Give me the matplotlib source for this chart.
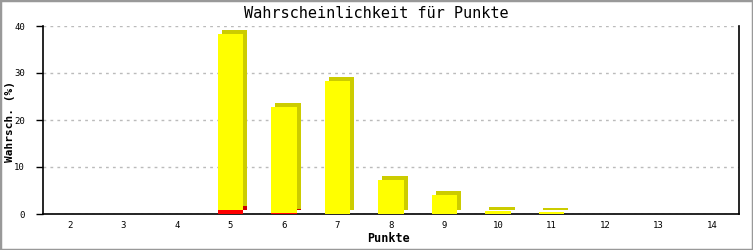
import matplotlib
matplotlib.use("Agg")
from matplotlib import pyplot as plt
from matplotlib.patches import Rectangle
import matplotlib.transforms as mtransforms

punkte = ["2", "3", "4", "5", "6", "7", "8", "9", "10", "11", "12", "13", "14"]
rot = [0, 0, 0, 0.85, 0.2, 0, 0, 0, 0, 0, 0, 0, 0]
gelb = [0, 0, 0, 37.55, 22.6, 28.2, 7.2, 4.0, 0.55, 0.35, 0, 0, 0]

plt.rcParams["font.family"] = "DejaVu Sans Mono"

fig = plt.figure(figsize=(7.53, 2.50), dpi=100)
ax = fig.add_axes([43 / 753, 36 / 250, 696 / 753, 188 / 250])

x = list(range(len(punkte)))
w = 0.47
# 3d shadow: shift 4px right, 4px up
shift = mtransforms.offset_copy(ax.transData, fig=fig, x=4, y=4, units="dots")
top = [r + g for r, g in zip(rot, gelb)]
for i in x:
    if top[i] > 0:
        ax.bar(i, gelb[i], w, bottom=rot[i], color="#cccc00", transform=shift, zorder=2)
    if rot[i] > 0:
        ax.bar(i, rot[i], w, color="#cc0000", transform=shift, zorder=2)
ax.bar(x, rot, w, color="#ff0000", zorder=3)
ax.bar(x, gelb, w, bottom=rot, color="#ffff00", zorder=3)

ax.set_xlim(-0.5, len(punkte) - 0.5)
ax.set_ylim(0, 40)
ax.set_yticks([0, 10, 20, 30, 40])
ax.set_xticks(x)
ax.set_xticklabels(punkte)
ax.tick_params(axis="x", length=0, labelsize=6.5, pad=5)
ax.tick_params(axis="y", length=5, labelsize=6.5, width=1, pad=8)
ax.yaxis.grid(True, color="#bbbbbb", linestyle=(0, (2, 3)), linewidth=1)
ax.set_axisbelow(True)
ax.spines["top"].set_visible(False)
for s in ["left", "right", "bottom"]:
    ax.spines[s].set_linewidth(1.2)

fig.text(0.5, 1 - 13 / 250, "Wahrscheinlichkeit für Punkte", ha="center", va="center", fontsize=11)
fig.text(389 / 753, 1 - 239 / 250, "Punkte", ha="center", va="center",
         fontsize=8.5, fontweight="bold")
fig.text(10 / 753, 1 - 121 / 250, "Wahrsch. (%)", rotation=90, ha="center", va="center",
         fontsize=8, fontweight="bold")

fig.patches.append(Rectangle((0, 0), 1, 1, transform=fig.transFigure, fill=False,
                             edgecolor="#999999", linewidth=2.5))

plt.savefig("out.png", dpi=100)
